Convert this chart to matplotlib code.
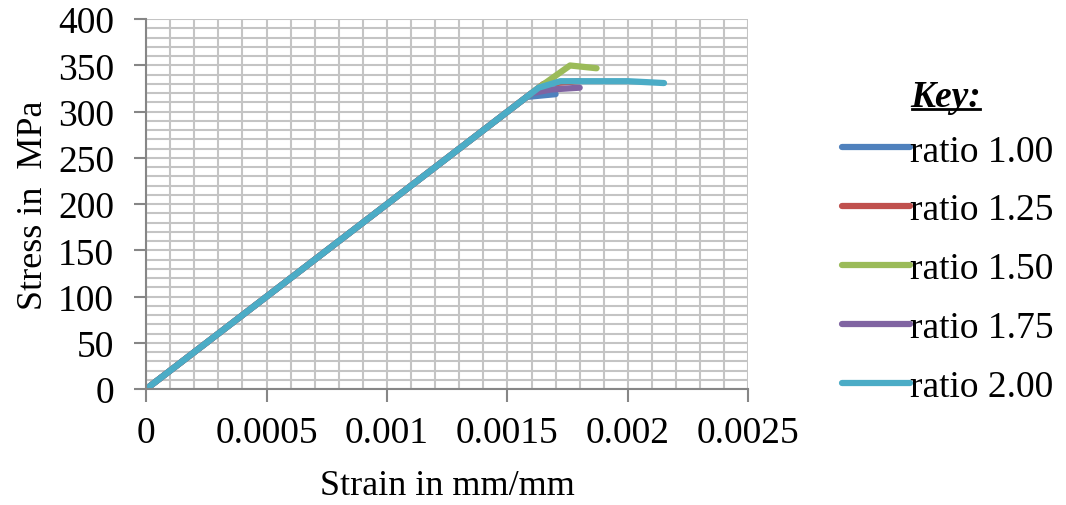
import matplotlib
matplotlib.use('Agg')
import matplotlib.pyplot as plt
from matplotlib.lines import Line2D
from matplotlib.ticker import MultipleLocator

labels = ['ratio 1.00', 'ratio 1.25', 'ratio 1.50', 'ratio 1.75', 'ratio 2.00']
colors = ['#4F81BD', '#C0504D', '#9BBB59', '#8064A2', '#4BACC6']

strain_100 = [0, 0.00158, 0.0017]
stress_100 = [0, 316, 319]
strain_125 = [0, 0.00165, 0.0018]
stress_125 = [0, 330, 333]
strain_150 = [0, 0.00163, 0.00176, 0.00187]
stress_150 = [0, 326, 350, 347]
strain_175 = [0, 0.0016, 0.00168, 0.0018]
stress_175 = [0, 320, 324, 326]
strain_200 = [0, 0.00163, 0.00172, 0.002, 0.00215]
stress_200 = [0, 326, 333, 333, 331]

series = [(strain_100, stress_100), (strain_125, stress_125), (strain_150, stress_150),
          (strain_175, stress_175), (strain_200, stress_200)]

xticks = [0, 0.0005, 0.001, 0.0015, 0.002, 0.0025]
xtick_labels = ['0', '0.0005', '0.001', '0.0015', '0.002', '0.0025']
yticks = [0, 50, 100, 150, 200, 250, 300, 350, 400]

plt.rcParams['font.family'] = 'Liberation Serif'

fig = plt.figure(figsize=(10.66, 5.06), dpi=100)
ax = fig.add_axes([0.137, 0.229, 0.565, 0.731])

for (x, y), c, lab in zip(series, colors, labels):
    ax.plot(x, y, color=c, linewidth=4.5, solid_capstyle='round', label=lab)

ax.set_xlim(0, 0.0025)
ax.set_ylim(0, 400)
ax.set_xticks(xticks)
ax.set_xticklabels(xtick_labels)
ax.set_yticks(yticks)
ax.xaxis.set_minor_locator(MultipleLocator(0.0001))
ax.yaxis.set_minor_locator(MultipleLocator(10))

ax.grid(True, which='both', color='#c4c4c4', linewidth=1.5)
ax.set_axisbelow(True)
for s in ['top', 'right']:
    ax.spines[s].set_visible(False)
for s in ['left', 'bottom']:
    ax.spines[s].set_color('#868686')
    ax.spines[s].set_linewidth(1.5)
ax.tick_params(which='major', direction='out', length=9, width=1.5, color='#868686', labelsize=27)
ax.tick_params(axis='x', which='major', pad=10)
ax.tick_params(axis='y', which='major', pad=14)
ax.tick_params(which='minor', length=0)

ax.set_xlabel('Strain in mm/mm', fontsize=26, labelpad=14)
ax.set_ylabel('Stress in  MPa', fontsize=26, labelpad=6)

leg = ax.legend(loc='upper left', bbox_to_anchor=(0.79, 0.733), bbox_transform=fig.transFigure,
                frameon=False, fontsize=27, handlelength=1.8, handletextpad=0.0,
                labelspacing=0.65, borderaxespad=0, borderpad=0)

# "Key:" title, underlined by hand
fig.text(0.8875, 0.7885, 'Key:', fontsize=27, fontweight='bold', fontstyle='italic',
         ha='center', va='baseline')
fig.add_artist(Line2D([0.856, 0.919], [0.7826, 0.7826], color='black', linewidth=2))

fig.savefig('out.png', dpi=100)
